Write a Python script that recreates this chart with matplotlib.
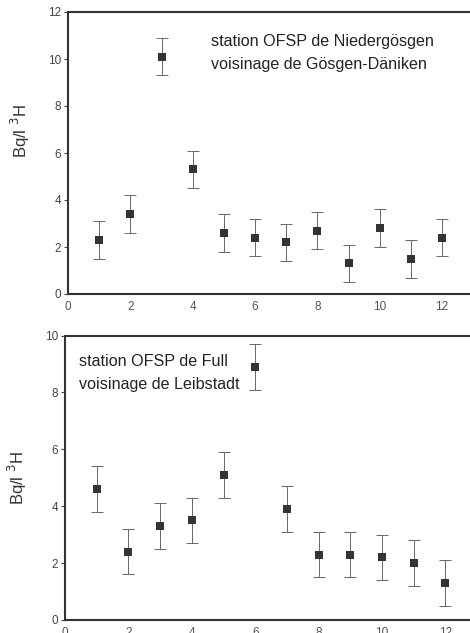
import matplotlib
matplotlib.use("Agg")
import matplotlib.pyplot as plt

plt.rcParams['font.family'] = ['Liberation Sans', 'DejaVu Sans']

months = [1, 2, 3, 4, 5, 6, 7, 8, 9, 10, 11, 12]

# Niedergösgen station (Gösgen-Däniken vicinity)
niederg_vals = [2.3, 3.4, 10.1, 5.3, 2.6, 2.4, 2.2, 2.7, 1.3, 2.8, 1.5, 2.4]
niederg_err = [0.8, 0.8, 0.8, 0.8, 0.8, 0.8, 0.8, 0.8, 0.8, 0.8, 0.8, 0.8]

# Full station (Leibstadt vicinity)
full_vals = [4.6, 2.4, 3.3, 3.5, 5.1, 8.9, 3.9, 2.3, 2.3, 2.2, 2.0, 1.3]
full_err = [0.8, 0.8, 0.8, 0.8, 0.8, 0.8, 0.8, 0.8, 0.8, 0.8, 0.8, 0.8]

x_ticks = [0, 2, 4, 6, 8, 10, 12]
top_yticks = [0, 2, 4, 6, 8, 10, 12]
bot_yticks = [0, 2, 4, 6, 8, 10]

W, H = 470, 633
fig = plt.figure(figsize=(W / 100, H / 100), dpi=100)

ax1 = fig.add_axes([68 / W, (H - 294) / H, (W - 68) / W, 282 / H])
ax2 = fig.add_axes([65 / W, (H - 620) / H, (W - 65) / W, 284.5 / H])


def draw_panel(ax, vals, errs, xmax, ymax, yticks):
    ax.errorbar(months, vals, yerr=errs, fmt='none', ecolor='#666666',
                elinewidth=0.7, capsize=4.5, capthick=0.7)
    ax.plot(months, vals, 's', color='#333333', markersize=5.5,
            markeredgewidth=0)
    ax.set_xlim(0, xmax)
    ax.set_ylim(0, ymax)
    ax.set_xticks(x_ticks)
    ax.set_yticks(yticks)
    ax.spines['right'].set_visible(False)
    for s in ('top', 'bottom', 'left'):
        ax.spines[s].set_linewidth(1.5)
        ax.spines[s].set_color('#333333')
    ax.tick_params(axis='y', direction='out', length=3, width=0.8,
                   color='#444444', labelsize=8.5, labelcolor='#444444', pad=2)
    ax.tick_params(axis='x', direction='out', length=0, labelsize=8.5,
                   labelcolor='#555555', pad=5)
    ax.set_ylabel('Bq/l $^3$H', fontsize=12, color='#333333')


draw_panel(ax1, niederg_vals, niederg_err, (W - 68) / 31.17, 12, top_yticks)
draw_panel(ax2, full_vals, full_err, (W - 65) / 31.7, 10, bot_yticks)
ax1.yaxis.set_label_coords(-0.09, 0.578)
ax2.yaxis.set_label_coords(-0.088, 0.5)

ax1.text(0.355, 0.922, 'station OFSP de Niedergösgen\nvoisinage de Gösgen-Däniken',
         transform=ax1.transAxes, fontsize=11.6, color='#222222',
         va='top', ha='left', linespacing=1.65)
ax2.text(0.035, 0.935, 'station OFSP de Full\nvoisinage de Leibstadt',
         transform=ax2.transAxes, fontsize=11.6, color='#222222',
         va='top', ha='left', linespacing=1.7)

fig.savefig('out.png', dpi=100, facecolor='white')
